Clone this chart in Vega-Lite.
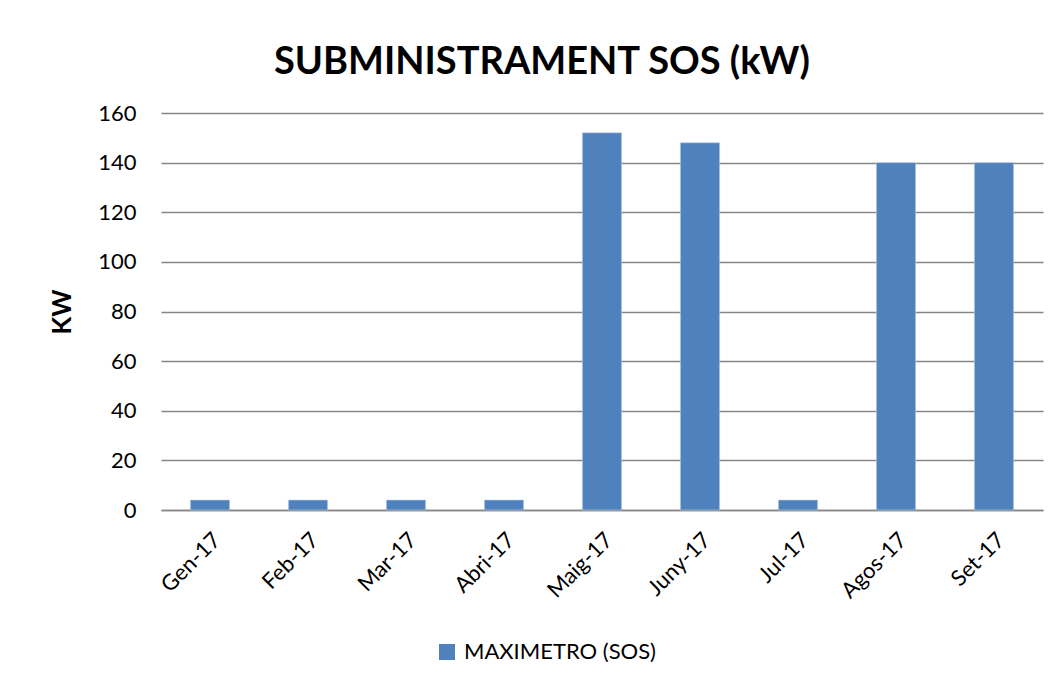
{
  "$schema": "https://vega.github.io/schema/vega-lite/v6.json",
  "width": 882,
  "height": 397,
  "autosize": {"type": "none"},
  "padding": {"left": 161, "top": 113, "right": 16, "bottom": 185},
  "background": "white",
  "config": {"view": {"stroke": null}},
  "title": {
    "text": "SUBMINISTRAMENT SOS (kW)",
    "font": "Lato",
    "fontSize": 38,
    "fontWeight": "bold",
    "color": "black",
    "anchor": "middle",
    "dx": -60,
    "dy": 38,
    "offset": 28,
    "baseline": "alphabetic"
  },
  "data": {
    "values": [
      {"month": "Gen-17", "kw": 4, "serie": "MAXIMETRO (SOS)"},
      {"month": "Feb-17", "kw": 4, "serie": "MAXIMETRO (SOS)"},
      {"month": "Mar-17", "kw": 4, "serie": "MAXIMETRO (SOS)"},
      {"month": "Abri-17", "kw": 4, "serie": "MAXIMETRO (SOS)"},
      {"month": "Maig-17", "kw": 152, "serie": "MAXIMETRO (SOS)"},
      {"month": "Juny-17", "kw": 148, "serie": "MAXIMETRO (SOS)"},
      {"month": "Jul-17", "kw": 4, "serie": "MAXIMETRO (SOS)"},
      {"month": "Agos-17", "kw": 140, "serie": "MAXIMETRO (SOS)"},
      {"month": "Set-17", "kw": 140, "serie": "MAXIMETRO (SOS)"}
    ]
  },
  "mark": {"type": "bar", "stroke": "#B9CDE5", "strokeWidth": 0.6},
  "encoding": {
    "x": {
      "field": "month",
      "type": "nominal",
      "sort": null,
      "scale": {"paddingInner": 0.6, "paddingOuter": 0.3},
      "axis": {
        "title": null,
        "labelAngle": -45,
        "labelFont": "Lato",
        "labelFontSize": 22,
        "labelColor": "black",
        "ticks": false,
        "domainColor": "#868686",
        "domainWidth": 1.5,
        "labelPadding": 19
      }
    },
    "y": {
      "field": "kw",
      "type": "quantitative",
      "scale": {"domain": [0, 160], "nice": false},
      "axis": {
        "title": "KW",
        "values": [0, 20, 40, 60, 80, 100, 120, 140, 160],
        "grid": true,
        "gridColor": "#868686",
        "gridWidth": 1.5,
        "domain": false,
        "ticks": false,
        "labelPadding": 25,
        "labelFont": "Lato",
        "labelFontSize": 22,
        "labelColor": "black",
        "titleFont": "Lato",
        "titleFontSize": 26,
        "titleFontWeight": "bold",
        "titleColor": "black",
        "titleAngle": -90,
        "titleX": -99,
        "titleY": 198.5,
        "titleAlign": "center",
        "titleBaseline": "middle"
      }
    },
    "color": {
      "field": "serie",
      "type": "nominal",
      "scale": {"range": ["#4F81BD"]},
      "legend": {
        "title": null,
        "orient": "none",
        "legendX": 275,
        "legendY": 528,
        "symbolType": "square",
        "symbolSize": 256,
        "symbolStrokeWidth": 0,
        "labelFont": "Lato",
        "labelFontSize": 22,
        "labelColor": "black",
        "labelOffset": 6,
        "labelLimit": 0
      }
    }
  }
}
